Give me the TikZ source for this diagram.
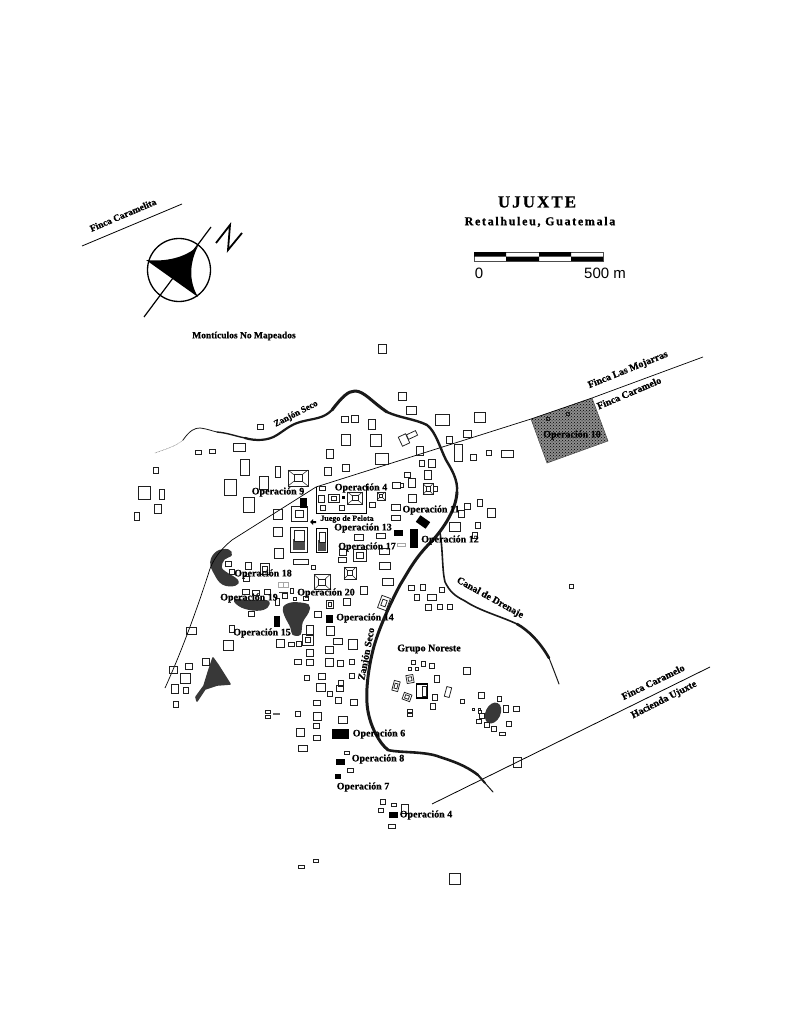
\documentclass[tikz,border=0pt]{standalone}
\usepackage{fontspec}
\usetikzlibrary{patterns}
\setmainfont{Liberation Serif}[BoldFeatures={FakeBold=0.6}]
\newfontfamily\arialf{Liberation Sans}
\newfontfamily\titlef[LetterSpace=12,BoldFeatures={FakeBold=0.8}]{Liberation Serif}
\newfontfamily\subtf[LetterSpace=14,BoldFeatures={FakeBold=0.8}]{Liberation Serif}
\begin{document}
\begin{tikzpicture}[x=1pt,y=-1pt,
  moundline/.style={draw=black!88,line width=0.75pt},
  lab/.style={font=\bfseries\fontsize{10}{10}\selectfont,inner sep=0pt,text=black},
  river/.style={draw=black!90,line cap=round,line join=round},
  blob/.style={fill=black!78,draw=black!78,line width=1.6pt,line join=round}]
\useasboundingbox (0,0) rectangle (785,1024);
\fill[white] (0,0) rectangle (785,1024);

% ---- blobs
\path[blob] plot[smooth cycle,tension=.7] coordinates {(211,562)(217,552)(228,550)(231,555)(224,559)(221,567)(225,572)(237,580)(235,585)(223,584)(215,574)};
\path[blob] plot[smooth cycle,tension=.7] coordinates {(235,600)(250,601)(267,601)(267,607)(257,610)(242,607)};
\path[blob] plot[smooth cycle,tension=.6] coordinates {(284,607)(293,603)(308,605)(308,612)(302,622)(300,634)(293,634)(291,627)(285,615)};
\path[blob] (213,658)--(218,665)--(230,684)--(217,685)--(205,689)--(197,701)--(196,697)--(204,686)--(208,673)--cycle;
\fill[black!78,rotate around={-25:(493,713)}] (493,713) ellipse (7.5pt and 11pt);

% ---- operation 10
\fill[black!45] (531,419)--(592,398)--(608,441)--(547,463)--cycle;
\fill[pattern=crosshatch dots,pattern color=black] (531,419)--(592,398)--(608,441)--(547,463)--cycle;
\draw[black!70,line width=.5pt] (531,419)--(547,463)--(608,441)--(592,398);

% ---- boundaries
\draw[line width=.7pt] (165,688) .. controls (180,655) and (195,615) .. (208,575) .. controls (212,560) and (220,550) .. (232,540) -- (316,487) -- (531,419) -- (592,398) -- (703,357);
\draw[line width=.8pt] (432,804) -- (710,667);
\draw[line width=.8pt] (82,246) -- (182,204);
\draw[line width=.7pt] (316,487) -- (316,513) -- (366,513) -- (366,484);

% ---- Zanjon Seco (north and east) drawn in tapering pieces
\draw[river,black!60,line width=.5pt,densely dotted] (155,453) .. controls (165,449) and (175,447) .. (183,440);
\draw[river,line width=.8pt] (183,440) .. controls (190,430) and (195,428) .. (200,428) .. controls (208,429) and (212,431) .. (217,432);
\draw[river,line width=1.4pt] (217,432) .. controls (228,433) and (235,436) .. (245,438);
\draw[river,line width=2.2pt] (245,438) .. controls (255,441) and (268,441) .. (277,435) .. controls (285,430) and (290,425) .. (300,422) .. controls (315,418) and (323,419) .. (332,410);
\draw[river,line width=3pt] (332,410) .. controls (342,397) and (348,391) .. (355,391) .. controls (364,391) and (372,402) .. (387,412);
\draw[river,line width=2.4pt] (387,412) .. controls (400,418) and (415,419) .. (427,425) .. controls (436,432) and (440,448) .. (446,460) .. controls (452,470) and (458,480) .. (457,492);
\draw[river,line width=3pt] (457,492) .. controls (456,512) and (440,533) .. (430,543) .. controls (415,558) and (408,572) .. (400,585) .. controls (390,604) and (378,630) .. (373,650) .. controls (368,670) and (366,690) .. (367,703) .. controls (368,722) and (378,742) .. (388,750);
\draw[river,line width=2.6pt] (388,750) .. controls (400,753) and (425,751) .. (440,757) .. controls (452,761) and (465,765) .. (478,775);
\draw[river,line width=2pt] (478,775) -- (485,783);
\draw[river,line width=1pt] (485,783) -- (493,792);

% ---- Canal de Drenaje
\draw[river,line width=1.6pt] (440,533) .. controls (443,550) and (442,570) .. (445,582) .. controls (450,592) and (455,596) .. (465,601) .. controls (480,611) and (500,616) .. (517,624);
\draw[river,line width=2.6pt] (517,624) .. controls (528,630) and (540,642) .. (549,658);
\draw[river,line width=1pt] (549,658) .. controls (553,668) and (556,676) .. (559,684);

% ---- plain mounds: x/y/w/h
\foreach \x/\y/\w/\h in {
 382/349/8/9, 260/427/6/5, 198/452/6/4, 212/451/6/4, 239/447/12/8, 245/467/9/16, 278/472/5/11,
 230/487/12/16, 264/483/9/13, 156/470/5/6, 144/493/12/13, 162/494/5/10, 158/509/7/9, 137/516/5/8,
 249/505/11/15, 278/514/9/10, 278/532/9/9, 402/396/8/8, 411/410/10/8, 442/420/14/11, 345/419/7/6,
 355/419/7/7, 372/424/7/10, 346/440/9/11, 376/440/11/12, 330/454/7/9, 382/459/13/11, 328/471/7/8,
 346/468/7/7, 420/451/7/9, 449/440/6/7, 467/434/8/7, 458/453/8/17, 422/463/5/6, 432/463/7/8, 407/475/6/5,
 428/475/7/9, 412/483/7/9, 396/485/8/6, 412/498/8/8, 322/488/6/4, 321/499/6/7, 323/508/5/5, 342/508/5/5,
 372/505/6/5, 396/507/9/6, 480/417/11/10, 473/457/6/6, 489/453/5/5, 507/454/12/7,
 396/518/9/5, 359/537/9/6, 381/536/9/5, 384/551/10/6, 343/552/7/6, 342/560/8/5, 301/562/15/5, 313/567/4/4,
 279/553/9/10, 385/566/11/7, 388/582/11/7, 364/590/7/8, 347/602/7/7, 411/588/6/5, 423/587/5/6, 442/590/5/5,
 417/597/5/6, 432/597/9/6, 428/607/6/6, 440/607/5/5, 450/607/5/5, 467/506/6/6, 480/503/5/7, 461/514/6/7,
 491/513/8/9, 455/527/11/9, 478/525/5/6, 475/535/5/6, 571/586/4/4,
 228/564/6/5, 248/566/6/7, 246/579/6/5, 232/572/5/5, 246/592/7/5, 256/593/7/5, 267/592/6/5, 285/596/5/5,
 292/591/3/5, 295/599/3/3, 277/602/4/7, 306/598/5/4, 318/614/7/6, 251/614/6/5, 232/629/5/7, 191/631/10/7,
 228/645/10/10, 310/630/7/10, 330/631/8/9, 280/643/8/8, 291/644/6/4, 299/644/5/5, 338/641/9/6, 353/644/9/10,
 310/653/7/7, 329/650/8/7, 298/662/7/5, 310/662/7/6, 329/662/8/8, 340/663/6/6, 352/662/5/5, 352/676/5/5,
 322/676/7/6, 307/678/5/5, 321/687/9/8, 341/683/5/6, 340/688/7/6, 330/694/5/5, 338/700/6/6, 354/702/7/6,
 317/703/7/5, 317/716/8/8, 298/714/5/5, 268/712/5/3, 268/717/5/3, 343/720/9/7, 206/662/7/7, 189/666/7/6,
 173/670/8/7, 185/678/10/10, 175/689/7/9, 186/690/5/6, 176/704/5/6,
 413/662/4/4, 423/664/4/5, 432/666/5/5, 410/669/3/3, 417/669/3/3, 467/671/7/7, 437/679/5/7, 435/697/5/6,
 433/706/5/6, 410/711/5/3, 410/715/5/3, 462/701/4/4, 481/695/6/6, 499/699/4/5, 506/709/5/7, 516/709/6/5,
 509/724/5/5, 502/734/6/3, 494/729/5/5, 487/725/5/5, 479/721/5/4, 482/716/5/5, 480/712/3/3, 473/709/2/2, 479/709/2/2,
 316/726/6/5, 300/732/8/8, 317/738/7/5, 303/748/9/6, 347/753/5/3, 350/770/6/4, 383/802/5/5, 394/805/5/3,
 381/810/5/4, 405/809/7/9, 392/826/7/4, 301/867/6/3, 316/861/5/3, 455/879/11/11, 517/762/8/10,
 548/419/3/3, 568/414/3/3}
 { \draw[moundline] ({\x-\w/2},{\y-\h/2}) rectangle ({\x+\w/2},{\y+\h/2}); }

% ---- rotated plain mounds: x/y/w/h/angle
\foreach \x/\y/\w/\h/\a in {404/440/8/10/25, 412/435/10/5/25, 448/692/5/10/-15}
 { \draw[moundline,rotate around={\a:(\x,\y)}] ({\x-\w/2},{\y-\h/2}) rectangle ({\x+\w/2},{\y+\h/2}); }

% ---- pyramids (square with inner square and corner lines)
\foreach \x/\y/\w/\h in {298/478/20/16, 355/498/15/12, 428/489/10/11, 350/573/12/12, 322/582/16/15, 381/496/8/8}
 { \draw[moundline] ({\x-\w/2},{\y-\h/2}) rectangle ({\x+\w/2},{\y+\h/2});
   \draw[moundline] ({\x-\w/5},{\y-\h/5}) rectangle ({\x+\w/5},{\y+\h/5});
   \draw[moundline,line width=.5pt] ({\x-\w/2},{\y-\h/2}) -- ({\x-\w/5},{\y-\h/5}) ({\x+\w/2},{\y-\h/2}) -- ({\x+\w/5},{\y-\h/5})
     ({\x-\w/2},{\y+\h/2}) -- ({\x-\w/5},{\y+\h/5}) ({\x+\w/2},{\y+\h/2}) -- ({\x+\w/5},{\y+\h/5}); }

% ---- double-walled mounds: x/y/w/h/angle
\foreach \x/\y/\w/\h/\a in {334/498/11/8/0, 299/514/16/15/0, 360/555/13/12/0, 330/604/7/8/0,
  308/640/11/11/0, 265/569/9/11/0, 410/679/7/8/10, 396/686/6/10/-15, 407/697/8/7/-20, 384/603/9/13/-20}
 { \draw[moundline,rotate around={\a:(\x,\y)}] ({\x-\w/2},{\y-\h/2}) rectangle ({\x+\w/2},{\y+\h/2});
   \draw[moundline,rotate around={\a:(\x,\y)}] ({\x-\w/4},{\y-\h/4}) rectangle ({\x+\w/4},{\y+\h/4}); }

% small side annexes
\draw[moundline] (400,483) rectangle (403,487);
\draw[moundline] (433,486) rectangle (437,491);

% ballcourt and large platforms
\draw[line width=1pt,black!90] (290.5,527) rectangle (307.5,552);
\fill[black!70] (293,539) rectangle (305,550);
\draw[moundline,fill=white] (294,530) rectangle (304,541);
\draw[line width=.9pt] (316.5,528) rectangle (327.5,552);
\fill[black!70] (318,540) rectangle (326,551);
\draw[moundline,fill=white] (319,532) rectangle (325,542);
\draw[line width=1.2pt] (416.5,684) rectangle (427.5,698);
\draw[moundline] (422,686) rectangle (426,696);

% faint marks
\draw[black!35,line width=.5pt] (278,582) rectangle (288,587) (283,582) -- (283,587);
\draw[black!35,line width=.5pt] (397,543) rectangle (405,546);
\fill[black!60] (273,713) rectangle (280,715);
\draw[black!80,line width=.7pt] (279,592) -- (288,592);

% ---- black (excavated) units
\foreach \x/\y/\w/\h in {303/503/7/10, 343/497/3/3, 398/533/9/6, 414/538/8/19, 277/621/6/11, 329/619/7/8,
   340/734/17/10, 340/762/9/6, 338/776/6/5, 393/815/9/6}
 { \fill[black] ({\x-\w/2},{\y-\h/2}) rectangle ({\x+\w/2},{\y+\h/2}); }
\fill[black,rotate around={-35:(423,522)}] (417,518) rectangle (429,526);

% arrow near ball court
\fill[black] (310,522) -- (313,519) -- (313,521) -- (316,521) -- (316,523) -- (313,523) -- (313,525) -- cycle;

% ---- north arrow
\draw[line width=1.3pt] (179,270) circle (31.5pt);
\draw[line width=1.2pt] (144,317) -- (211,227);
\fill[black] (146,260) .. controls (165,262) and (185,258) .. (198,246)
  .. controls (190,262) and (188,280) .. (198,297) -- cycle;
\draw[line width=1.8pt,line join=miter] (216,243) -- (230,225) -- (228,250) -- (242,233);

% ---- scale bar
\draw[black!70,line width=.4pt] (474,252) rectangle (603,261);
\fill[black] (474,252) rectangle (506,256.5) (539,252) rectangle (571,256.5)
  (506,256.5) rectangle (539,261) (571,256.5) rectangle (603,261);
\node[inner sep=0pt,font=\arialf\fontsize{15}{15}\selectfont] (sc0) at (479,273) {0};
\node[inner sep=0pt,font=\arialf\fontsize{15}{15}\selectfont] (sc1) at (605,273) {500 m};

% ---- title
\node[inner sep=0pt,font=\titlef\bfseries\fontsize{17}{17}\selectfont] (title) at (537,202) {UJUXTE};
\node[inner sep=0pt,font=\subtf\bfseries\fontsize{12}{12}\selectfont] (subtitle) at (540,222) {Retalhuleu, Guatemala};

% ---- labels
\node[lab,font=\bfseries\fontsize{9.5}{9.5}\selectfont,rotate=23] (l1) at (123,215) {Finca Caramelita};
\node[lab,font=\bfseries\fontsize{9.5}{9.5}\selectfont] (l2) at (244,336) {Montículos No Mapeados};
\node[lab,font=\bfseries\fontsize{9}{9}\selectfont,rotate=27] (l3) at (296,414) {Zanjón Seco};
\node[lab,font=\bfseries\fontsize{10}{10}\selectfont,rotate=22] (l4) at (628,370) {Finca Las Mojarras};
\node[lab,font=\bfseries\fontsize{10}{10}\selectfont,rotate=23] (l5) at (629,393) {Finca Caramelo};
\node[lab] (o10) at (572,435) {Operación 10};
\node[lab] (o9) at (278,492) {Operación 9};
\node[lab] (o4a) at (361,488) {Operación 4};
\node[lab,font=\bfseries\fontsize{8}{8}\selectfont] (jp) at (347,519) {Juego de Pelota};
\node[lab] (o11) at (431,510) {Operación 11};
\node[lab] (o13) at (363,528) {Operación 13};
\node[lab] (o12) at (450,540) {Operación 12};
\node[lab] (o17) at (367,547) {Operación 17};
\node[lab] (o18) at (263,574) {Operación 18};
\node[lab] (o19) at (249,598) {Operación 19};
\node[lab] (o20) at (326,593) {Operación 20};
\node[lab] (o14) at (365,618) {Operación 14};
\node[lab] (o15) at (262,633) {Operación 15};
\node[lab] (gn) at (429,649) {Grupo Noreste};
\node[lab,rotate=-29] (cd) at (490,598) {Canal de Drenaje};
\node[lab,rotate=79] (zs) at (367,654) {Zanjón Seco};
\node[lab] (o6) at (379,734) {Operación 6};
\node[lab] (o8) at (378,759) {Operación 8};
\node[lab] (o7) at (363,787) {Operación 7};
\node[lab] (o4b) at (426,815) {Operación 4};
\node[lab,rotate=26] (l6) at (653,682) {Finca Caramelo};
\node[lab,rotate=27] (l7) at (664,700) {Hacienda Ujuxte};
\end{tikzpicture}
\end{document}
